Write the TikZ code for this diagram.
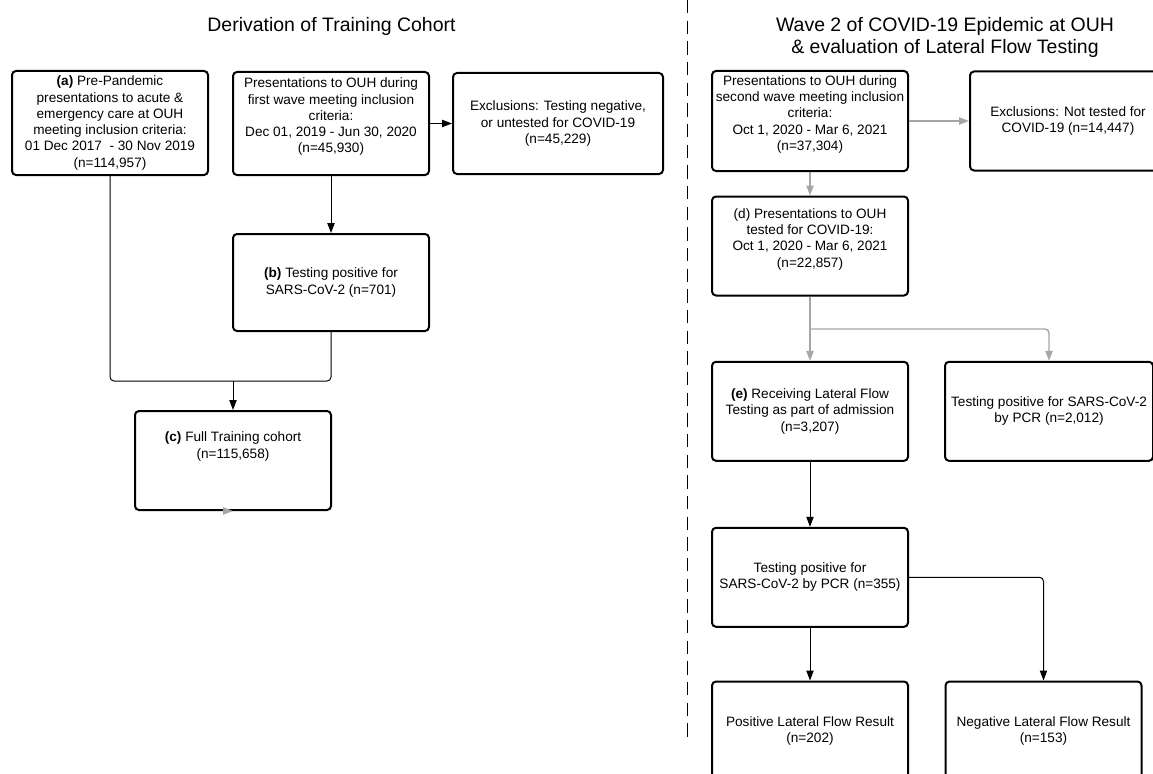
\documentclass[tikz,border=0pt]{standalone}
\usepackage{fontspec}
\setmainfont{Liberation Sans}
\usetikzlibrary{arrows.meta}

\begin{document}
\begin{tikzpicture}[x=0.75pt, y=-0.75pt,
  boite/.style={draw, line width=1.5pt, rounded corners=3pt, align=center,
    minimum width=147pt, minimum height=74.25pt, inner sep=2pt,
    font=\fontsize{10.2}{12.2}\selectfont},
  titre/.style={align=center, font=\fontsize{14.6}{16.5}\selectfont},
  fleche/.style={line width=0.75pt, -{Triangle[length=7.5pt,width=5.5pt]}},
  gris/.style={draw=gray!70, line width=1.1pt, -{Triangle[length=7.5pt,width=5.5pt]}}]

  % Cadre
  \useasboundingbox (0,0) rectangle (1153,774);

  % Titres
  \node[titre] (titreG) at (331.5,26) {Derivation of Training Cohort};
  \node[titre] (titreD) at (945,37) {Wave 2 of COVID-19 Epidemic at OUH\\ \& evaluation of Lateral Flow Testing};

  % Séparation
  \draw[line width=0.6pt, dash pattern=on 10pt off 5.5pt] (687,0) -- (687,737);

  % Partie gauche
  \node[boite, minimum height=78pt] (a) at (110,123) {\textbf{(a)} Pre-Pandemic\\ presentations to acute \&\\ emergency care at OUH\\ meeting inclusion criteria:\\ 01 Dec 2017~ - 30 Nov 2019\\ (n=114,957)};
  \node[boite, minimum height=77.25pt] (vague1) at (331,123.5) {Presentations to OUH during\\ first wave meeting inclusion\\ criteria:\\ Dec 01, 2019 - Jun 30, 2020\\ (n=45,930)\\ \mbox{}};
  \node[boite, minimum width=157.5pt, minimum height=75.75pt] (exclG) at (558,123.5) {Exclusions: Testing negative,\\ or untested for COVID-19\\ (n=45,229)};
  \node[boite, minimum height=72.75pt] (b) at (331,282.5) {\textbf{(b)} Testing positive for\\ SARS-CoV-2 (n=701)};
  \node[boite] (c) at (233,460.5) {\textbf{(c)} Full Training cohort\\ (n=115,658)\\[11pt] \mbox{}};
  \coordinate (jonc) at (233,381);

  % Flèches gauche
  \draw[fleche] (vague1.east) -- (vague1.east -| exclG.west);
  \draw[fleche] (vague1) -- (b);
  \draw[line width=0.75pt, rounded corners=3pt] (a.south) |- (jonc) -| (b.south);
  \draw[fleche] (jonc) -- (c);
  \draw[gris] ([xshift=-7.5pt]c.south) -- (c.south);

  % Partie droite
  \node[boite, minimum height=75pt] (vague2) at (810,121) {Presentations to OUH during\\ second wave meeting inclusion\\ criteria:\\ Oct 1, 2020 - Mar 6, 2021\\ (n=37,304)\\ \mbox{}};
  \node[boite] (exclD) at (1068,121) {Exclusions: Not tested for\\ COVID-19 (n=14,447)};
  \node[boite] (d) at (810,246) {(d) Presentations to OUH\\ tested for COVID-19:\\ Oct 1, 2020 - Mar 6, 2021\\ (n=22,857)\\ \mbox{}};
  \node[boite] (e) at (810,411.3) {\textbf{(e)} Receiving Lateral Flow\\ Testing as part of admission\\ (n=3,207)};
  \node[boite, minimum width=156pt] (pcrA) at (1049,411.3) {Testing positive for SARS-CoV-2\\ by PCR (n=2,012)};
  \node[boite] (pcr) at (810,577.3) {Testing positive for\\ SARS-CoV-2 by PCR (n=355)};
  \node[boite] (pos) at (810,731) {Positive Lateral Flow Result\\ (n=202)};
  \node[boite] (neg) at (1043.5,731) {Negative Lateral Flow Result\\ (n=153)};
  \coordinate (embr) at (810,329);

  % Flèches droite
  \draw[gris] (vague2) -- (exclD);
  \draw[gris] (vague2) -- (d);
  \draw[gris] (d) -- (e);
  \draw[gris, rounded corners=3pt] (embr) -| (pcrA.north);
  \draw[fleche] (e) -- (pcr);
  \draw[fleche] (pcr) -- (pos);
  \draw[fleche, rounded corners=3pt] (pcr.east) -| (neg.north);

\end{tikzpicture}
\end{document}
